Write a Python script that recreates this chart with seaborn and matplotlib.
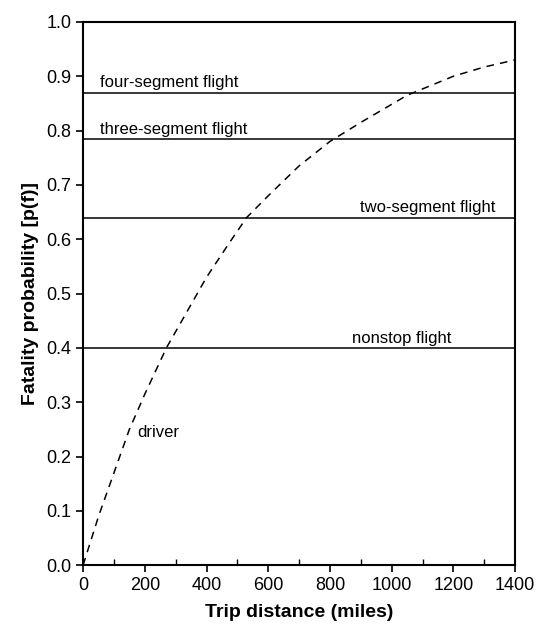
import matplotlib
matplotlib.use('Agg')
import matplotlib.pyplot as plt
import seaborn as sns
import pandas as pd
from matplotlib.ticker import MultipleLocator, FormatStrFormatter

# driver curve, points
driver_miles = [0, 50, 100, 150, 200, 270, 350, 400, 470, 530, 600, 700, 800, 900, 1050, 1200, 1300, 1400]
driver_pf = [0.0, 0.09, 0.17, 0.25, 0.315, 0.40, 0.48, 0.53, 0.59, 0.64, 0.68, 0.735, 0.78, 0.815, 0.865, 0.90, 0.917, 0.93]

# flight levels (constant with distance)
flight_names = ['four-segment flight', 'three-segment flight', 'two-segment flight', 'nonstop flight']
flight_pf = [0.87, 0.785, 0.64, 0.40]

sns.set_style('ticks')
plt.rcParams['font.family'] = ['Liberation Sans', 'DejaVu Sans']
plt.rcParams['text.color'] = 'black'
plt.rcParams['axes.labelcolor'] = 'black'

fig = plt.figure(figsize=(5.36, 6.26), dpi=100)
ax = fig.add_axes([0.155, 0.097, 0.806, 0.868])

driver = pd.DataFrame({'miles': driver_miles, 'pf': driver_pf})
sns.lineplot(data=driver, x='miles', y='pf', ax=ax, color='black',
             linewidth=1.1, linestyle=(0, (5, 4)), estimator=None)

for name, p in zip(flight_names, flight_pf):
    lvl = pd.DataFrame({'miles': [0, 1400], 'pf': [p, p]})
    sns.lineplot(data=lvl, x='miles', y='pf', ax=ax, color='black',
                 linewidth=1.1, estimator=None)

# labels
ax.text(55, 0.874, 'four-segment flight', fontsize=12, va='bottom', ha='left')
ax.text(55, 0.789, 'three-segment flight', fontsize=12, va='bottom', ha='left')
ax.text(1335, 0.644, 'two-segment flight', fontsize=12, va='bottom', ha='right')
ax.text(1195, 0.404, 'nonstop flight', fontsize=12, va='bottom', ha='right')
ax.text(175, 0.245, 'driver', fontsize=12, va='center', ha='left')

ax.set_xlim(0, 1400)
ax.set_ylim(0, 1.0)
ax.xaxis.set_major_locator(MultipleLocator(200))
ax.xaxis.set_minor_locator(MultipleLocator(100))
ax.yaxis.set_major_locator(MultipleLocator(0.1))
ax.yaxis.set_major_formatter(FormatStrFormatter('%.1f'))

ax.tick_params(axis='both', which='major', direction='out', length=5, width=1.2,
               labelsize=13, colors='black')
ax.tick_params(axis='x', which='minor', direction='in', length=4, width=1.0, colors='black')

for s in ax.spines.values():
    s.set_linewidth(1.5)
    s.set_color('black')

ax.set_xlabel('Trip distance (miles)', fontsize=14, fontweight='bold', labelpad=7)
ax.set_ylabel('Fatality probability [p(f)]', fontsize=14, fontweight='bold', labelpad=5)

fig.savefig('out.png', dpi=100)
